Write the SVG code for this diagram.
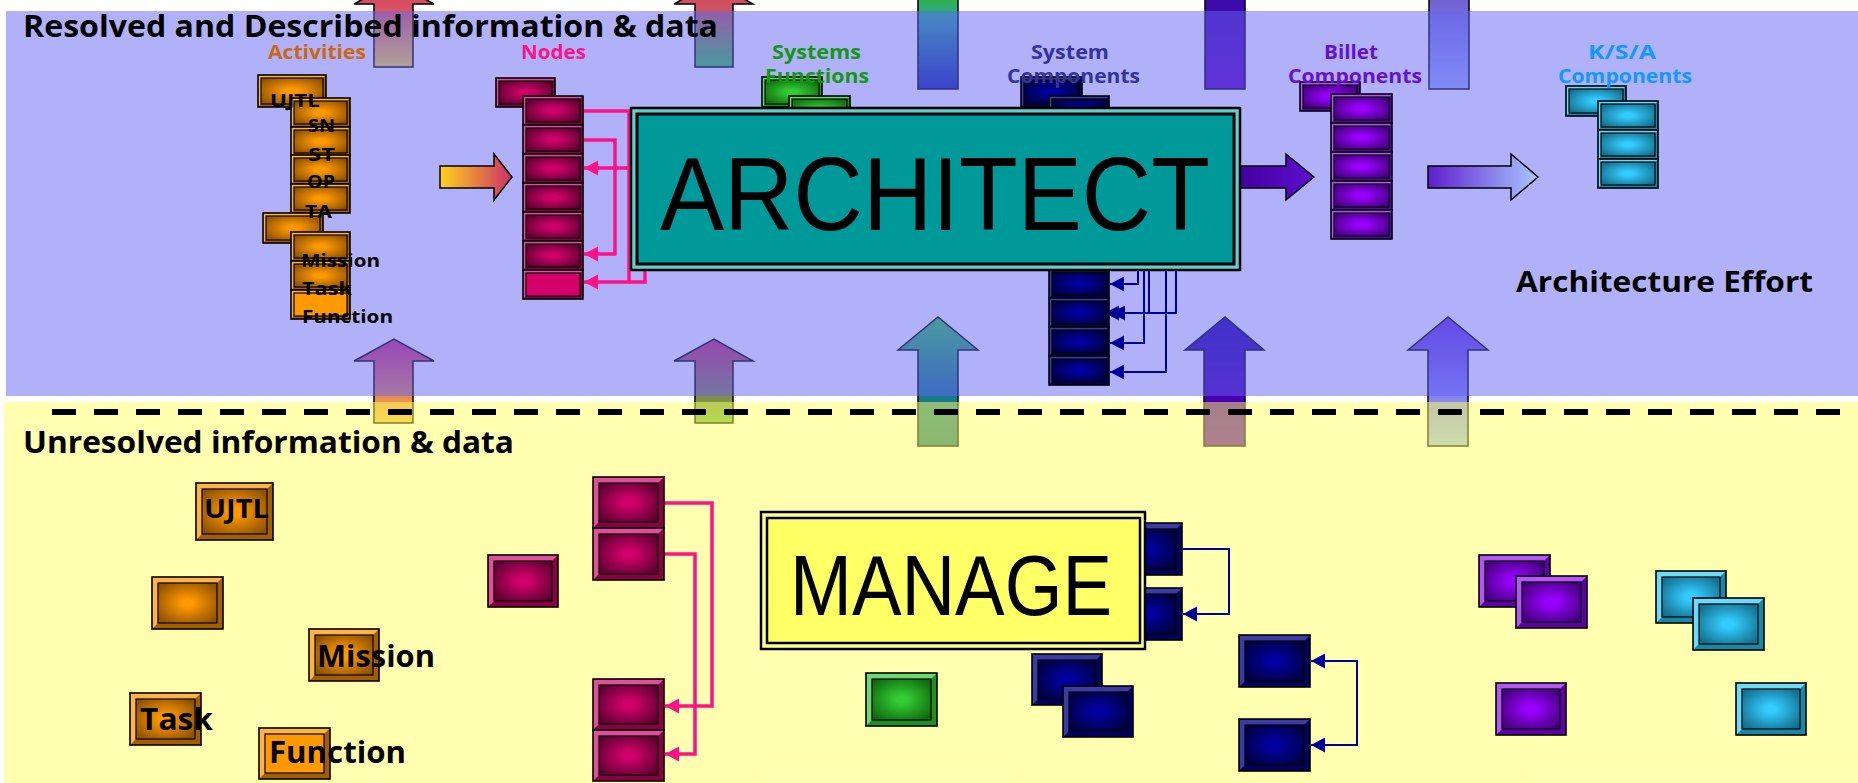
<svg xmlns="http://www.w3.org/2000/svg" width="1858" height="783" viewBox="0 0 1858 783">
<style>
.ua{stroke:#000;stroke-width:1.5}
.ba{stroke:#000;stroke-width:1.5}
.cp{fill:none;stroke:#ff1188;stroke-width:3.5}
.cb{fill:none;stroke:#000099;stroke-width:2}
.bx .f{stroke:#000;stroke-width:1.2}
.bx .k{fill:none;stroke:#000;stroke-width:1.6}
.o .l{fill:#ffb347}.o .d{fill:#a35e00}.o .f{fill:url(#gO)}.o.fl .f{fill:#ff9900}
.p .l{fill:#e0509a}.p .d{fill:#8a0042}.p .f{fill:url(#gP)}.p.fl .f{fill:#d4006a}
.g .l{fill:#6fd86f}.g .d{fill:#1f8f1f}.g .f{fill:url(#gG)}
.b .l{fill:#3b3ba8}.b .d{fill:#00005e}.b .f{fill:url(#gB)}
.v .l{fill:#b456f5}.v .d{fill:#5c00a8}.v .f{fill:url(#gV)}
.c .l{fill:#70d8f8}.c .d{fill:#1a86a8}.c .f{fill:url(#gC)}
.t{font-family:"Open Sans","DejaVu Sans",sans-serif;font-weight:700}
.bt{font-family:"Liberation Sans",Arial,sans-serif}
</style>
<defs>
<radialGradient id="gO" cx="50%" cy="50%" r="62%"><stop offset="0.15" stop-color="#ff9900"/><stop offset="1" stop-color="#8f5200"/></radialGradient>
<radialGradient id="gP" cx="50%" cy="50%" r="62%"><stop offset="0.15" stop-color="#d0006a"/><stop offset="1" stop-color="#5c0030"/></radialGradient>
<radialGradient id="gG" cx="50%" cy="50%" r="62%"><stop offset="0.15" stop-color="#33cc33"/><stop offset="1" stop-color="#0f6a0f"/></radialGradient>
<radialGradient id="gB" cx="50%" cy="50%" r="62%"><stop offset="0.15" stop-color="#0000a0"/><stop offset="1" stop-color="#00003c"/></radialGradient>
<radialGradient id="gV" cx="50%" cy="50%" r="62%"><stop offset="0.15" stop-color="#9900ff"/><stop offset="1" stop-color="#42007a"/></radialGradient>
<radialGradient id="gC" cx="50%" cy="50%" r="62%"><stop offset="0.15" stop-color="#33ccff"/><stop offset="1" stop-color="#126e8c"/></radialGradient>
<linearGradient id="gB1" gradientUnits="userSpaceOnUse" x1="0" y1="339" x2="0" y2="423"><stop offset="0" stop-color="#d02c7b"/><stop offset="1" stop-color="#f0b840"/></linearGradient>
<linearGradient id="gB2" gradientUnits="userSpaceOnUse" x1="0" y1="339" x2="0" y2="423"><stop offset="0" stop-color="#cc2c6b"/><stop offset="1" stop-color="#60b83c"/></linearGradient>
<linearGradient id="gB3" gradientUnits="userSpaceOnUse" x1="0" y1="317" x2="0" y2="446"><stop offset="0" stop-color="#30d047"/><stop offset="0.55" stop-color="#1c7c8b"/><stop offset="1" stop-color="#147080"/></linearGradient>
<linearGradient id="gB4" gradientUnits="userSpaceOnUse" x1="0" y1="317" x2="0" y2="446"><stop offset="0" stop-color="#1c009b"/><stop offset="1" stop-color="#6000c0"/></linearGradient>
<linearGradient id="gB5" gradientUnits="userSpaceOnUse" x1="0" y1="317" x2="0" y2="446"><stop offset="0" stop-color="#6430d7"/><stop offset="1" stop-color="#9cb9fa"/></linearGradient>
<linearGradient id="gT1" gradientUnits="userSpaceOnUse" x1="0" y1="-18" x2="0" y2="67"><stop offset="0" stop-color="#d04860"/><stop offset="0.3" stop-color="#d85060"/><stop offset="1" stop-color="#fcdc37"/></linearGradient>
<linearGradient id="gT2" gradientUnits="userSpaceOnUse" x1="0" y1="-18" x2="0" y2="67"><stop offset="0" stop-color="#d04860"/><stop offset="0.3" stop-color="#d05060"/><stop offset="1" stop-color="#30d04b"/></linearGradient>
<linearGradient id="gT3" gradientUnits="userSpaceOnUse" x1="0" y1="0" x2="0" y2="89"><stop offset="0" stop-color="#30b050"/><stop offset="0.2" stop-color="#2aa890"/><stop offset="1" stop-color="#1424a3"/></linearGradient>
<linearGradient id="gT4" gradientUnits="userSpaceOnUse" x1="0" y1="0" x2="0" y2="89"><stop offset="0" stop-color="#3a0aa8"/><stop offset="1" stop-color="#5c00bb"/></linearGradient>
<linearGradient id="gT5" gradientUnits="userSpaceOnUse" x1="0" y1="0" x2="0" y2="89"><stop offset="0" stop-color="#7060d0"/><stop offset="1" stop-color="#9cb4f5"/></linearGradient>
<linearGradient id="gH1" gradientUnits="userSpaceOnUse" x1="440" y1="0" x2="512" y2="0"><stop offset="0" stop-color="#ffd21a"/><stop offset="1" stop-color="#cc2f6a"/></linearGradient>
<linearGradient id="gH2" gradientUnits="userSpaceOnUse" x1="1240" y1="0" x2="1314" y2="0"><stop offset="0" stop-color="#4400a0"/><stop offset="1" stop-color="#5e0fcf"/></linearGradient>
<linearGradient id="gH3" gradientUnits="userSpaceOnUse" x1="1428" y1="0" x2="1538" y2="0"><stop offset="0" stop-color="#5e1fcc"/><stop offset="1" stop-color="#a9c6ff"/></linearGradient>
<marker id="mp" markerUnits="userSpaceOnUse" markerWidth="16" markerHeight="16" refX="14" refY="8" orient="auto"><path d="M0,0.5L14,8L0,15.5z" fill="#ff1188"/></marker>
<marker id="mb" markerUnits="userSpaceOnUse" markerWidth="16" markerHeight="16" refX="14" refY="8" orient="auto-start-reverse"><path d="M0,0.5L14,8L0,15.5z" fill="#000099"/></marker>
</defs>

<g id="up-arrows" class="ua">
<polygon fill="url(#gT1)" points="374,67 374,4 354,4 394,-18 434,4 413,4 413,67"/>
<polygon fill="url(#gT2)" points="695,67 695,4 674,4 714,-18 753,4 733,4 733,67"/>
<polygon fill="url(#gT3)" points="918,89 918,-30 898,-30 938,-63 978,-30 958,-30 958,89"/>
<polygon fill="url(#gT4)" points="1205,89 1205,-30 1185,-30 1225,-63 1265,-30 1245,-30 1245,89"/>
<polygon fill="url(#gT5)" points="1429,89 1429,-30 1409,-30 1449,-63 1489,-30 1469,-30 1469,89"/>
<polygon fill="url(#gB1)" points="374,423 374,361 354,361 394,339 434,361 413,361 413,423"/>
<polygon fill="url(#gB2)" points="695,423 695,361 674,361 714,339 753,361 733,361 733,423"/>
<polygon fill="url(#gB3)" points="918,446 918,350 898,350 938,317 978,350 958,350 958,446"/>
<polygon fill="url(#gB4)" points="1204,446 1204,350 1185,350 1225,317 1264,350 1245,350 1245,446"/>
<polygon fill="url(#gB5)" points="1428,446 1428,350 1408,350 1448,317 1488,350 1468,350 1468,446"/>
</g>

<g id="bands">
<rect x="6" y="11" width="1852" height="385" fill="#6464f5" fill-opacity="0.5"/>
<rect x="4" y="402" width="1854" height="381" fill="#ffff60" fill-opacity="0.5"/>
</g>
<line id="divider" x1="52" y1="412" x2="1840" y2="412" stroke="#000" stroke-width="6" stroke-dasharray="24 18"/>

<g id="connectors">
<polygon class="ba" fill="url(#gH1)" points="440,166 494,166 494,154 512,177 494,200 494,188 440,188"/>
<polygon class="ba" fill="url(#gH2)" points="1240,166 1286,166 1286,154 1314,177 1286,200 1286,188 1240,188"/>
<polygon class="ba" fill="url(#gH3)" points="1428,166 1511,166 1511,154 1538,177 1511,200 1511,188 1428,188"/>
<path class="cp" marker-end="url(#mp)" d="M583,111H629V282H584"/>
<path class="cp" marker-end="url(#mp)" d="M583,140H615V254H584"/>
<path class="cp" marker-end="url(#mp)" d="M633,168H584"/>
<path class="cp" d="M645,268V282H629"/>
<path class="cp" marker-end="url(#mp)" d="M664,503H712V706H665"/>
<path class="cp" marker-end="url(#mp)" d="M664,554H695V754H665"/>
<path class="cb" marker-end="url(#mb)" d="M1109,110H1176V313H1111"/>
<path class="cb" marker-end="url(#mb)" d="M1149,200V313H1105"/>
<path class="cb" marker-end="url(#mb)" d="M1138,200V284H1110"/>
<path class="cb" marker-end="url(#mb)" d="M1144,200V343H1110"/>
<path class="cb" marker-end="url(#mb)" d="M1166,200V372H1110"/>
<path class="cb" marker-end="url(#mb)" d="M1182,549H1229V614H1183"/>
<path class="cb" marker-start="url(#mb)" marker-end="url(#mb)" d="M1311,661H1357V745H1311"/>
</g>

<g id="activities">
<g id="act-1" class="bx o"><rect class="l" x="258" y="75" width="68" height="32"/><path class="d" d="M326,75V107H258l3,-3H323V78z"/><rect class="f" x="261" y="78" width="62" height="26"/><rect class="k" x="258" y="75" width="68" height="32"/></g>
<g id="act-2" class="bx o"><rect class="l" x="291" y="98" width="59" height="29"/><path class="d" d="M350,98V127H291l3,-3H347V101z"/><rect class="f" x="294" y="101" width="53" height="23"/><rect class="k" x="291" y="98" width="59" height="29"/></g>
<g id="act-3" class="bx o"><rect class="l" x="291" y="127" width="59" height="29"/><path class="d" d="M350,127V156H291l3,-3H347V130z"/><rect class="f" x="294" y="130" width="53" height="23"/><rect class="k" x="291" y="127" width="59" height="29"/></g>
<g id="act-4" class="bx o"><rect class="l" x="291" y="155" width="59" height="29"/><path class="d" d="M350,155V184H291l3,-3H347V158z"/><rect class="f" x="294" y="158" width="53" height="23"/><rect class="k" x="291" y="155" width="59" height="29"/></g>
<g id="act-5" class="bx o"><rect class="l" x="291" y="184" width="59" height="29"/><path class="d" d="M350,184V213H291l3,-3H347V187z"/><rect class="f" x="294" y="187" width="53" height="23"/><rect class="k" x="291" y="184" width="59" height="29"/></g>
<g id="act-6" class="bx o"><rect class="l" x="263" y="213" width="60" height="30"/><path class="d" d="M323,213V243H263l3,-3H320V216z"/><rect class="f" x="266" y="216" width="54" height="24"/><rect class="k" x="263" y="213" width="60" height="30"/></g>
<g id="act-7" class="bx o"><rect class="l" x="291" y="232" width="59" height="29"/><path class="d" d="M350,232V261H291l3,-3H347V235z"/><rect class="f" x="294" y="235" width="53" height="23"/><rect class="k" x="291" y="232" width="59" height="29"/></g>
<g id="act-8" class="bx o"><rect class="l" x="291" y="261" width="59" height="29"/><path class="d" d="M350,261V290H291l3,-3H347V264z"/><rect class="f" x="294" y="264" width="53" height="23"/><rect class="k" x="291" y="261" width="59" height="29"/></g>
<g id="act-9" class="bx o fl"><rect class="l" x="291" y="290" width="59" height="29"/><path class="d" d="M350,290V319H291l3,-3H347V293z"/><rect class="f" x="294" y="293" width="53" height="23"/><rect class="k" x="291" y="290" width="59" height="29"/></g>
</g>

<g id="nodes">
<g id="node-1" class="bx p"><rect class="l" x="496" y="78" width="59" height="29"/><path class="d" d="M555,78V107H496l3,-3H552V81z"/><rect class="f" x="499" y="81" width="53" height="23"/><rect class="k" x="496" y="78" width="59" height="29"/></g>
<g id="node-2" class="bx p"><rect class="l" x="523" y="96" width="60" height="29"/><path class="d" d="M583,96V125H523l3,-3H580V99z"/><rect class="f" x="526" y="99" width="54" height="23"/><rect class="k" x="523" y="96" width="60" height="29"/></g>
<g id="node-3" class="bx p"><rect class="l" x="523" y="125" width="60" height="29"/><path class="d" d="M583,125V154H523l3,-3H580V128z"/><rect class="f" x="526" y="128" width="54" height="23"/><rect class="k" x="523" y="125" width="60" height="29"/></g>
<g id="node-4" class="bx p"><rect class="l" x="523" y="154" width="60" height="29"/><path class="d" d="M583,154V183H523l3,-3H580V157z"/><rect class="f" x="526" y="157" width="54" height="23"/><rect class="k" x="523" y="154" width="60" height="29"/></g>
<g id="node-5" class="bx p"><rect class="l" x="523" y="183" width="60" height="29"/><path class="d" d="M583,183V212H523l3,-3H580V186z"/><rect class="f" x="526" y="186" width="54" height="23"/><rect class="k" x="523" y="183" width="60" height="29"/></g>
<g id="node-6" class="bx p"><rect class="l" x="523" y="212" width="60" height="29"/><path class="d" d="M583,212V241H523l3,-3H580V215z"/><rect class="f" x="526" y="215" width="54" height="23"/><rect class="k" x="523" y="212" width="60" height="29"/></g>
<g id="node-7" class="bx p"><rect class="l" x="523" y="241" width="60" height="29"/><path class="d" d="M583,241V270H523l3,-3H580V244z"/><rect class="f" x="526" y="244" width="54" height="23"/><rect class="k" x="523" y="241" width="60" height="29"/></g>
<g id="node-8" class="bx p fl"><rect class="l" x="523" y="270" width="60" height="29"/><path class="d" d="M583,270V299H523l3,-3H580V273z"/><rect class="f" x="526" y="273" width="54" height="23"/><rect class="k" x="523" y="270" width="60" height="29"/></g>
</g>

<g id="systems-functions">
<g id="sf-1" class="bx g"><rect class="l" x="762" y="77" width="60" height="30"/><path class="d" d="M822,77V107H762l3,-3H819V80z"/><rect class="f" x="765" y="80" width="54" height="24"/><rect class="k" x="762" y="77" width="60" height="30"/></g>
<g id="sf-2" class="bx g"><rect class="l" x="789" y="96" width="61" height="29"/><path class="d" d="M850,96V125H789l3,-3H847V99z"/><rect class="f" x="792" y="99" width="55" height="23"/><rect class="k" x="789" y="96" width="61" height="29"/></g>
</g>

<g id="system-components">
<g id="sc-1" class="bx b"><rect class="l" x="1021" y="77" width="61" height="30"/><path class="d" d="M1082,77V107H1021l3,-3H1079V80z"/><rect class="f" x="1024" y="80" width="55" height="24"/><rect class="k" x="1021" y="77" width="61" height="30"/></g>
<g id="sc-2" class="bx b"><rect class="l" x="1049" y="96" width="60" height="29"/><path class="d" d="M1109,96V125H1049l3,-3H1106V99z"/><rect class="f" x="1052" y="99" width="54" height="23"/><rect class="k" x="1049" y="96" width="60" height="29"/></g>
<g id="sc-3" class="bx b"><rect class="l" x="1049" y="269" width="60" height="29"/><path class="d" d="M1109,269V298H1049l3,-3H1106V272z"/><rect class="f" x="1052" y="272" width="54" height="23"/><rect class="k" x="1049" y="269" width="60" height="29"/></g>
<g id="sc-4" class="bx b"><rect class="l" x="1049" y="298" width="60" height="29"/><path class="d" d="M1109,298V327H1049l3,-3H1106V301z"/><rect class="f" x="1052" y="301" width="54" height="23"/><rect class="k" x="1049" y="298" width="60" height="29"/></g>
<g id="sc-5" class="bx b"><rect class="l" x="1049" y="327" width="60" height="29"/><path class="d" d="M1109,327V356H1049l3,-3H1106V330z"/><rect class="f" x="1052" y="330" width="54" height="23"/><rect class="k" x="1049" y="327" width="60" height="29"/></g>
<g id="sc-6" class="bx b"><rect class="l" x="1049" y="356" width="60" height="29"/><path class="d" d="M1109,356V385H1049l3,-3H1106V359z"/><rect class="f" x="1052" y="359" width="54" height="23"/><rect class="k" x="1049" y="356" width="60" height="29"/></g>
</g>

<g id="billet-components">
<g id="bc-1" class="bx v"><rect class="l" x="1300" y="82" width="60" height="29"/><path class="d" d="M1360,82V111H1300l3,-3H1357V85z"/><rect class="f" x="1303" y="85" width="54" height="23"/><rect class="k" x="1300" y="82" width="60" height="29"/></g>
<g id="bc-2" class="bx v"><rect class="l" x="1331" y="94" width="61" height="29"/><path class="d" d="M1392,94V123H1331l3,-3H1389V97z"/><rect class="f" x="1334" y="97" width="55" height="23"/><rect class="k" x="1331" y="94" width="61" height="29"/></g>
<g id="bc-3" class="bx v"><rect class="l" x="1331" y="123" width="61" height="29"/><path class="d" d="M1392,123V152H1331l3,-3H1389V126z"/><rect class="f" x="1334" y="126" width="55" height="23"/><rect class="k" x="1331" y="123" width="61" height="29"/></g>
<g id="bc-4" class="bx v"><rect class="l" x="1331" y="152" width="61" height="29"/><path class="d" d="M1392,152V181H1331l3,-3H1389V155z"/><rect class="f" x="1334" y="155" width="55" height="23"/><rect class="k" x="1331" y="152" width="61" height="29"/></g>
<g id="bc-5" class="bx v"><rect class="l" x="1331" y="181" width="61" height="29"/><path class="d" d="M1392,181V210H1331l3,-3H1389V184z"/><rect class="f" x="1334" y="184" width="55" height="23"/><rect class="k" x="1331" y="181" width="61" height="29"/></g>
<g id="bc-6" class="bx v"><rect class="l" x="1331" y="210" width="61" height="29"/><path class="d" d="M1392,210V239H1331l3,-3H1389V213z"/><rect class="f" x="1334" y="213" width="55" height="23"/><rect class="k" x="1331" y="210" width="61" height="29"/></g>
</g>

<g id="ksa-components">
<g id="ksa-1" class="bx c"><rect class="l" x="1566" y="86" width="60" height="30"/><path class="d" d="M1626,86V116H1566l3,-3H1623V89z"/><rect class="f" x="1569" y="89" width="54" height="24"/><rect class="k" x="1566" y="86" width="60" height="30"/></g>
<g id="ksa-2" class="bx c"><rect class="l" x="1598" y="101" width="60" height="29"/><path class="d" d="M1658,101V130H1598l3,-3H1655V104z"/><rect class="f" x="1601" y="104" width="54" height="23"/><rect class="k" x="1598" y="101" width="60" height="29"/></g>
<g id="ksa-3" class="bx c"><rect class="l" x="1598" y="130" width="60" height="29"/><path class="d" d="M1658,130V159H1598l3,-3H1655V133z"/><rect class="f" x="1601" y="133" width="54" height="23"/><rect class="k" x="1598" y="130" width="60" height="29"/></g>
<g id="ksa-4" class="bx c"><rect class="l" x="1598" y="159" width="60" height="29"/><path class="d" d="M1658,159V188H1598l3,-3H1655V162z"/><rect class="f" x="1601" y="162" width="54" height="23"/><rect class="k" x="1598" y="159" width="60" height="29"/></g>
</g>

<g id="architect">
<rect x="631" y="108" width="609" height="162" fill="#66cccc" stroke="#000" stroke-width="2.5"/>
<rect x="637" y="114" width="597" height="150" fill="#009999" stroke="#000" stroke-width="3"/>
<text class="bt" x="660" y="230" font-size="104" textLength="550" lengthAdjust="spacingAndGlyphs">ARCHITECT</text>
</g>

<g id="lower-activities">
<g id="u-ujtl" class="bx o"><rect class="l" x="196" y="483" width="77" height="57"/><path class="d" d="M273,483V540H196l6,-6H267V489z"/><rect class="f" x="202" y="489" width="65" height="45"/><rect class="k" x="196" y="483" width="77" height="57"/></g>
<g id="u-act" class="bx o"><rect class="l" x="152" y="577" width="71" height="52"/><path class="d" d="M223,577V629H152l6,-6H217V583z"/><rect class="f" x="158" y="583" width="59" height="40"/><rect class="k" x="152" y="577" width="71" height="52"/></g>
<g id="u-mission" class="bx o"><rect class="l" x="309" y="629" width="70" height="52"/><path class="d" d="M379,629V681H309l6,-6H373V635z"/><rect class="f" x="315" y="635" width="58" height="40"/><rect class="k" x="309" y="629" width="70" height="52"/></g>
<g id="u-task" class="bx o"><rect class="l" x="130" y="693" width="71" height="52"/><path class="d" d="M201,693V745H130l6,-6H195V699z"/><rect class="f" x="136" y="699" width="59" height="40"/><rect class="k" x="130" y="693" width="71" height="52"/></g>
<g id="u-function" class="bx o fl"><rect class="l" x="259" y="728" width="71" height="51"/><path class="d" d="M330,728V779H259l6,-6H324V734z"/><rect class="f" x="265" y="734" width="59" height="39"/><rect class="k" x="259" y="728" width="71" height="51"/></g>
</g>

<g id="lower-nodes">
<g id="u-node-1" class="bx p"><rect class="l" x="488" y="555" width="70" height="52"/><path class="d" d="M558,555V607H488l6,-6H552V561z"/><rect class="f" x="494" y="561" width="58" height="40"/><rect class="k" x="488" y="555" width="70" height="52"/></g>
<g id="u-node-2" class="bx p"><rect class="l" x="593" y="477" width="71" height="51"/><path class="d" d="M664,477V528H593l6,-6H658V483z"/><rect class="f" x="599" y="483" width="59" height="39"/><rect class="k" x="593" y="477" width="71" height="51"/></g>
<g id="u-node-3" class="bx p"><rect class="l" x="593" y="528" width="71" height="52"/><path class="d" d="M664,528V580H593l6,-6H658V534z"/><rect class="f" x="599" y="534" width="59" height="40"/><rect class="k" x="593" y="528" width="71" height="52"/></g>
<g id="u-node-4" class="bx p"><rect class="l" x="593" y="679" width="71" height="51"/><path class="d" d="M664,679V730H593l6,-6H658V685z"/><rect class="f" x="599" y="685" width="59" height="39"/><rect class="k" x="593" y="679" width="71" height="51"/></g>
<g id="u-node-5" class="bx p"><rect class="l" x="593" y="730" width="71" height="51"/><path class="d" d="M664,730V781H593l6,-6H658V736z"/><rect class="f" x="599" y="736" width="59" height="39"/><rect class="k" x="593" y="730" width="71" height="51"/></g>
</g>

<g id="u-sf-1" class="bx g"><rect class="l" x="866" y="673" width="71" height="53"/><path class="d" d="M937,673V726H866l6,-6H931V679z"/><rect class="f" x="872" y="679" width="59" height="41"/><rect class="k" x="866" y="673" width="71" height="53"/></g>

<g id="lower-system-components">
<g id="u-sc-1" class="bx b"><rect class="l" x="1111" y="523" width="71" height="52"/><path class="d" d="M1182,523V575H1111l6,-6H1176V529z"/><rect class="f" x="1117" y="529" width="59" height="40"/><rect class="k" x="1111" y="523" width="71" height="52"/></g>
<g id="u-sc-2" class="bx b"><rect class="l" x="1111" y="588" width="71" height="52"/><path class="d" d="M1182,588V640H1111l6,-6H1176V594z"/><rect class="f" x="1117" y="594" width="59" height="40"/><rect class="k" x="1111" y="588" width="71" height="52"/></g>
<g id="u-sc-3" class="bx b"><rect class="l" x="1032" y="654" width="70" height="51"/><path class="d" d="M1102,654V705H1032l6,-6H1096V660z"/><rect class="f" x="1038" y="660" width="58" height="39"/><rect class="k" x="1032" y="654" width="70" height="51"/></g>
<g id="u-sc-4" class="bx b"><rect class="l" x="1063" y="686" width="70" height="51"/><path class="d" d="M1133,686V737H1063l6,-6H1127V692z"/><rect class="f" x="1069" y="692" width="58" height="39"/><rect class="k" x="1063" y="686" width="70" height="51"/></g>
<g id="u-sc-5" class="bx b"><rect class="l" x="1239" y="635" width="71" height="52"/><path class="d" d="M1310,635V687H1239l6,-6H1304V641z"/><rect class="f" x="1245" y="641" width="59" height="40"/><rect class="k" x="1239" y="635" width="71" height="52"/></g>
<g id="u-sc-6" class="bx b"><rect class="l" x="1239" y="719" width="71" height="52"/><path class="d" d="M1310,719V771H1239l6,-6H1304V725z"/><rect class="f" x="1245" y="725" width="59" height="40"/><rect class="k" x="1239" y="719" width="71" height="52"/></g>
</g>

<g id="lower-billet">
<g id="u-bc-1" class="bx v"><rect class="l" x="1479" y="555" width="71" height="52"/><path class="d" d="M1550,555V607H1479l6,-6H1544V561z"/><rect class="f" x="1485" y="561" width="59" height="40"/><rect class="k" x="1479" y="555" width="71" height="52"/></g>
<g id="u-bc-2" class="bx v"><rect class="l" x="1516" y="576" width="71" height="52"/><path class="d" d="M1587,576V628H1516l6,-6H1581V582z"/><rect class="f" x="1522" y="582" width="59" height="40"/><rect class="k" x="1516" y="576" width="71" height="52"/></g>
<g id="u-bc-3" class="bx v"><rect class="l" x="1496" y="683" width="70" height="52"/><path class="d" d="M1566,683V735H1496l6,-6H1560V689z"/><rect class="f" x="1502" y="689" width="58" height="40"/><rect class="k" x="1496" y="683" width="70" height="52"/></g>
</g>

<g id="lower-ksa">
<g id="u-ksa-1" class="bx c"><rect class="l" x="1656" y="571" width="70" height="52"/><path class="d" d="M1726,571V623H1656l6,-6H1720V577z"/><rect class="f" x="1662" y="577" width="58" height="40"/><rect class="k" x="1656" y="571" width="70" height="52"/></g>
<g id="u-ksa-2" class="bx c"><rect class="l" x="1693" y="598" width="71" height="52"/><path class="d" d="M1764,598V650H1693l6,-6H1758V604z"/><rect class="f" x="1699" y="604" width="59" height="40"/><rect class="k" x="1693" y="598" width="71" height="52"/></g>
<g id="u-ksa-3" class="bx c"><rect class="l" x="1736" y="683" width="70" height="52"/><path class="d" d="M1806,683V735H1736l6,-6H1800V689z"/><rect class="f" x="1742" y="689" width="58" height="40"/><rect class="k" x="1736" y="683" width="70" height="52"/></g>
</g>

<g id="manage">
<rect x="761" y="512" width="384" height="137" fill="#ffff99" stroke="#000" stroke-width="2.5"/>
<rect x="767" y="518" width="373" height="125" fill="#ffff66" stroke="#000" stroke-width="2.5"/>
<text class="bt" x="790" y="615" font-size="85" textLength="322" lengthAdjust="spacingAndGlyphs">MANAGE</text>
</g>

<g id="labels" class="t">
<text x="23" y="37" font-size="30" textLength="695" lengthAdjust="spacingAndGlyphs">Resolved and Described information &amp; data</text>
<text x="23" y="453" font-size="30" textLength="491" lengthAdjust="spacingAndGlyphs">Unresolved information &amp; data</text>
<text x="1516" y="292" font-size="29" textLength="297" lengthAdjust="spacingAndGlyphs">Architecture Effort</text>
<g font-size="19.5">
<text x="268" y="59" fill="#cc6611" textLength="98" lengthAdjust="spacingAndGlyphs">Activities</text>
<text x="521" y="59" fill="#ff1188" textLength="65" lengthAdjust="spacingAndGlyphs">Nodes</text>
<text x="772" y="59" fill="#119911" textLength="89" lengthAdjust="spacingAndGlyphs">Systems</text>
<text x="765" y="83" fill="#119911" textLength="104" lengthAdjust="spacingAndGlyphs">Functions</text>
<text x="1031" y="59" fill="#333399" textLength="78" lengthAdjust="spacingAndGlyphs">System</text>
<text x="1007" y="83" fill="#333399" textLength="133" lengthAdjust="spacingAndGlyphs">Components</text>
<text x="1324" y="59" fill="#6611cc" textLength="54" lengthAdjust="spacingAndGlyphs">Billet</text>
<text x="1288" y="83" fill="#6611cc" textLength="134" lengthAdjust="spacingAndGlyphs">Components</text>
<text x="1588" y="59" fill="#1199ff" textLength="68" lengthAdjust="spacingAndGlyphs">K/S/A</text>
<text x="1558" y="83" fill="#1199ff" textLength="134" lengthAdjust="spacingAndGlyphs">Components</text>
</g>
<g font-size="18">
<text x="270" y="107" textLength="50" lengthAdjust="spacingAndGlyphs">UJTL</text>
<text x="308" y="132" textLength="27" lengthAdjust="spacingAndGlyphs">SN</text>
<text x="308" y="161" textLength="27" lengthAdjust="spacingAndGlyphs">ST</text>
<text x="307" y="188" textLength="28" lengthAdjust="spacingAndGlyphs">OP</text>
<text x="305" y="218" textLength="27" lengthAdjust="spacingAndGlyphs">TA</text>
<text x="301" y="267" textLength="79" lengthAdjust="spacingAndGlyphs">Mission</text>
<text x="302" y="295" textLength="50" lengthAdjust="spacingAndGlyphs">Task</text>
<text x="302" y="323" textLength="91" lengthAdjust="spacingAndGlyphs">Function</text>
</g>
<text x="204" y="518" font-size="26" textLength="65" lengthAdjust="spacingAndGlyphs">UJTL</text>
<g font-size="30">
<text x="317" y="667" textLength="118" lengthAdjust="spacingAndGlyphs">Mission</text>
<text x="140" y="730" textLength="73" lengthAdjust="spacingAndGlyphs">Task</text>
<text x="269" y="763" textLength="137" lengthAdjust="spacingAndGlyphs">Function</text>
</g>
</g>
</svg>
